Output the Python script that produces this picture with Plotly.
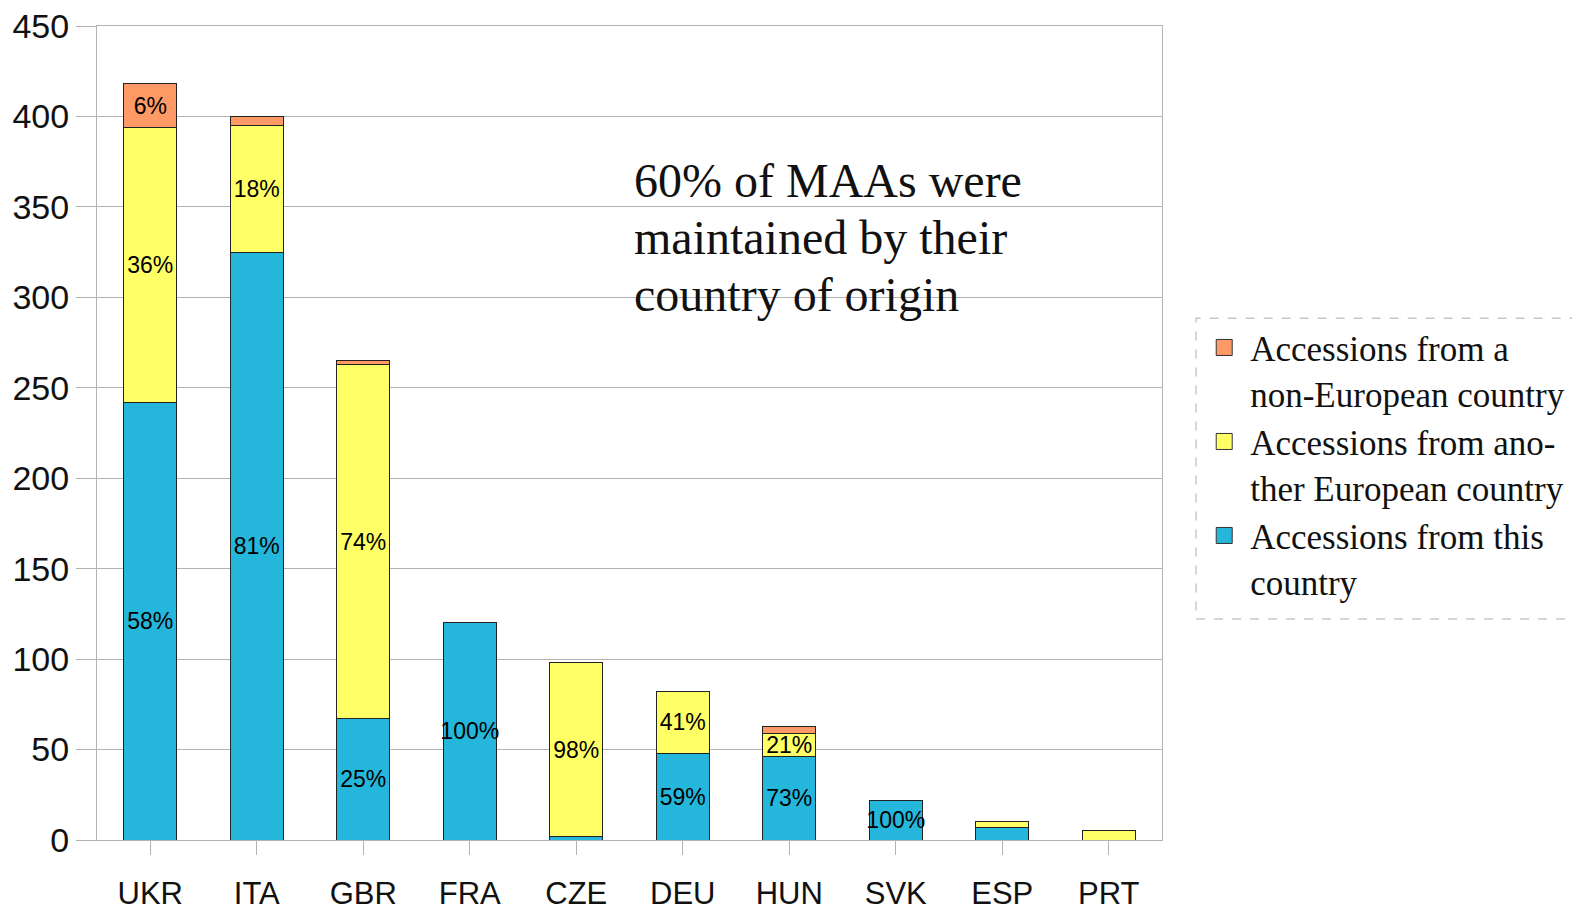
import plotly.graph_objects as go

countries = ["UKR", "ITA", "GBR", "FRA", "CZE", "DEU", "HUN", "SVK", "ESP", "PRT"]
this_country = [242, 325, 67, 120, 2, 48, 46, 22, 7, 0]
other_european = [152, 70, 196, 0, 96, 34, 13, 0, 3, 5]
non_european = [24, 5, 2, 0, 0, 0, 4, 0, 0, 0]

this_labels = ["58%", "81%", "25%", "100%", "", "59%", "73%", "100%", "", ""]
other_labels = ["36%", "18%", "74%", "", "98%", "41%", "21%", "", "", ""]
non_labels = ["6%", "", "", "", "", "", "", "", "", ""]

names = ["Accessions from this<br>country",
         "Accessions from ano-<br>ther European country",
         "Accessions from a<br>non-European country"]
colors = ["#25B7DB", "#FFFF66", "#FF9966"]

note_lines = ["60% of MAAs were", "maintained by their", "country of origin"]

fig = go.Figure()
for vals, labs, name, col in zip([this_country, other_european, non_european],
                                 [this_labels, other_labels, non_labels],
                                 names, colors):
    fig.add_trace(go.Bar(
        x=countries, y=vals, name=name, text=labs, showlegend=False,
        textposition="inside", insidetextanchor="middle", textangle=0,
        constraintext="none",
        textfont=dict(family="Liberation Sans", size=23, color="#000"),
        marker=dict(color=col, line=dict(color="#222", width=1)),
        width=0.5,
    ))
# legend entries (larger square swatches)
for name, col in zip(names, colors):
    fig.add_trace(go.Scatter(
        x=[None], y=[None], mode="markers", name=name,
        marker=dict(symbol="square", size=24, color=col,
                    line=dict(color="#333", width=1)),
    ))

fig.update_layout(
    barmode="stack",
    width=1580, height=909,
    margin=dict(l=89, r=426, t=18, b=77),
    paper_bgcolor="white", plot_bgcolor="white",
    showlegend=True,
    legend=dict(
        x=1.034, y=0.641, xanchor="left", yanchor="top",
        traceorder="reversed", valign="top",
        font=dict(family="Liberation Serif", size=35, color="#111"),
        bgcolor="rgba(0,0,0,0)", borderwidth=0,
        itemwidth=42,
    ),
)
fig.update_yaxes(
    range=[0, 450], dtick=50, automargin=False,
    showgrid=True, gridcolor="#b3b3b3", gridwidth=1,
    showline=True, linecolor="#b3b3b3", linewidth=1, mirror=True,
    ticks="outside", ticklen=20, tickcolor="#b3b3b3",
    tickfont=dict(family="Liberation Sans", size=34, color="#111"),
    ticklabelstandoff=0, zeroline=False, ticklabeloverflow="allow",
)
fig.update_xaxes(
    automargin=False,
    showline=True, linecolor="#b3b3b3", linewidth=1, mirror=True,
    ticks="outside", ticklen=14, tickcolor="#b3b3b3",
    tickfont=dict(family="Liberation Sans", size=31, color="#111"),
    ticklabelstandoff=12, ticklabeloverflow="allow",
)
fig.add_shape(type="rect", xref="paper", yref="paper",
              x0=1.032, x1=1.40, y0=0.2715, y1=0.641,
              line=dict(color="#c8c8c8", width=1.5, dash="dash"))
for i, line in enumerate(note_lines):
    fig.add_annotation(
        xref="paper", yref="paper", x=0.502, y=0.8108 - i * 0.0706,
        xanchor="left", yanchor="middle",
        align="left", showarrow=False, text=line,
        font=dict(family="Liberation Serif", size=48, color="#111"),
    )
fig.write_html("out.html")
